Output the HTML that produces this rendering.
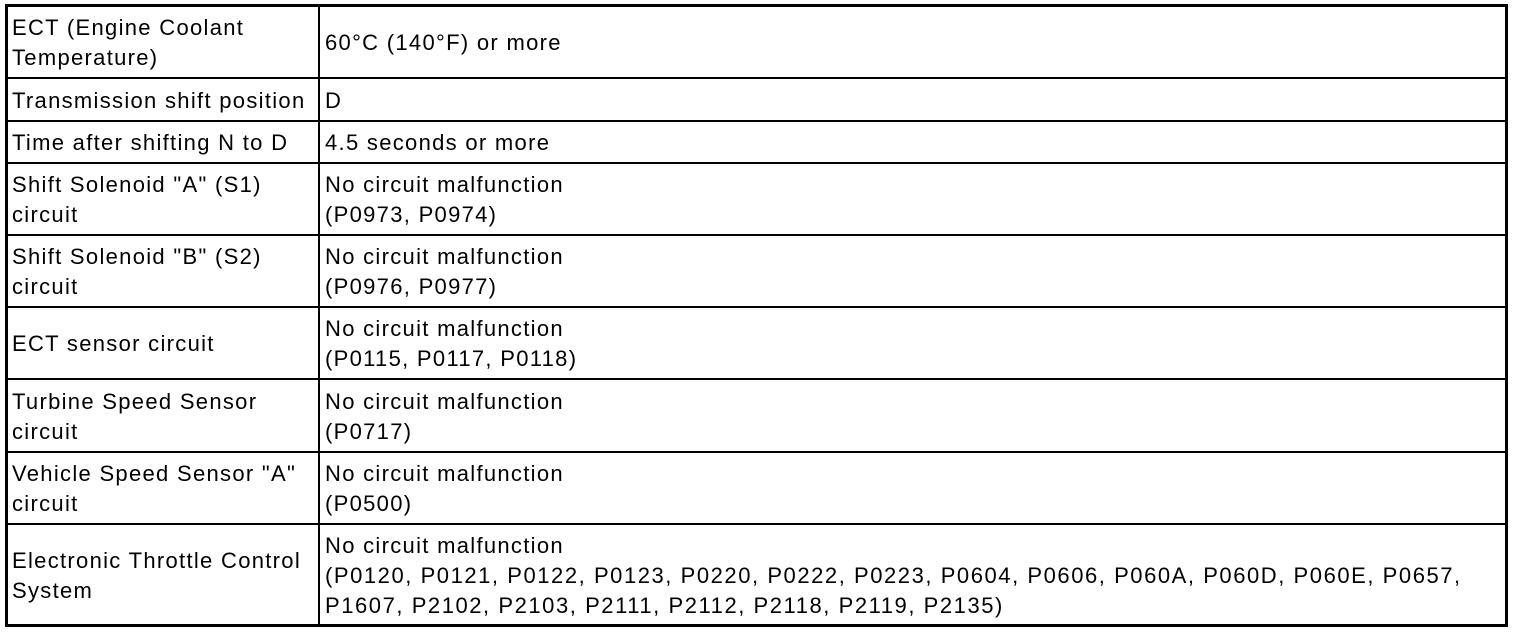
<!DOCTYPE html>
<html><head><style>
body{margin:0;background:#fff;width:1520px;height:634px;position:relative;overflow:hidden;font-family:"Liberation Sans",Arial,sans-serif;font-size:22px;letter-spacing:1.3px;color:#000}
.h{position:absolute;left:6px;width:1500px;height:2px;background:#000}
.t{position:absolute;line-height:30px;white-space:nowrap}
</style></head><body>
<div style="position:absolute;left:5px;top:4px;width:1497px;height:617px;border:3px solid #000"></div>
<div style="position:absolute;left:318px;top:6px;width:2px;height:618px;background:#000"></div>
<div class="h" style="top:77px"></div>
<div class="h" style="top:120px"></div>
<div class="h" style="top:162px"></div>
<div class="h" style="top:234px"></div>
<div class="h" style="top:306px"></div>
<div class="h" style="top:378px"></div>
<div class="h" style="top:451px"></div>
<div class="h" style="top:523px"></div>

<div class="t" style="left:12px;top:13px">ECT (Engine Coolant<br>Temperature)</div>
<div class="t" style="left:325px;top:28px">60°C (140°F) or more</div>
<div class="t" style="left:12px;top:86px">Transmission shift position</div>
<div class="t" style="left:325px;top:86px">D</div>
<div class="t" style="left:12px;top:128px">Time after shifting N to D</div>
<div class="t" style="left:325px;top:128px">4.5 seconds or more</div>
<div class="t" style="left:12px;top:170px">Shift Solenoid "A" (S1)<br>circuit</div>
<div class="t" style="left:325px;top:170px">No circuit malfunction<br>(P0973, P0974)</div>
<div class="t" style="left:12px;top:242px">Shift Solenoid "B" (S2)<br>circuit</div>
<div class="t" style="left:325px;top:242px">No circuit malfunction<br>(P0976, P0977)</div>
<div class="t" style="left:12px;top:329px">ECT sensor circuit</div>
<div class="t" style="left:325px;top:314px">No circuit malfunction<br>(P0115, P0117, P0118)</div>
<div class="t" style="left:12px;top:387px">Turbine Speed Sensor<br>circuit</div>
<div class="t" style="left:325px;top:387px">No circuit malfunction<br>(P0717)</div>
<div class="t" style="left:12px;top:459px">Vehicle Speed Sensor "A"<br>circuit</div>
<div class="t" style="left:325px;top:459px">No circuit malfunction<br>(P0500)</div>
<div class="t" style="left:12px;top:546px">Electronic Throttle Control<br>System</div>
<div class="t" style="left:325px;top:531px">No circuit malfunction<br><span style="letter-spacing:1.55px">(P0120, P0121, P0122, P0123, P0220, P0222, P0223, P0604, P0606, P060A, P060D, P060E, P0657,<br>P1607, P2102, P2103, P2111, P2112, P2118, P2119, P2135)</span></div>
</body></html>
